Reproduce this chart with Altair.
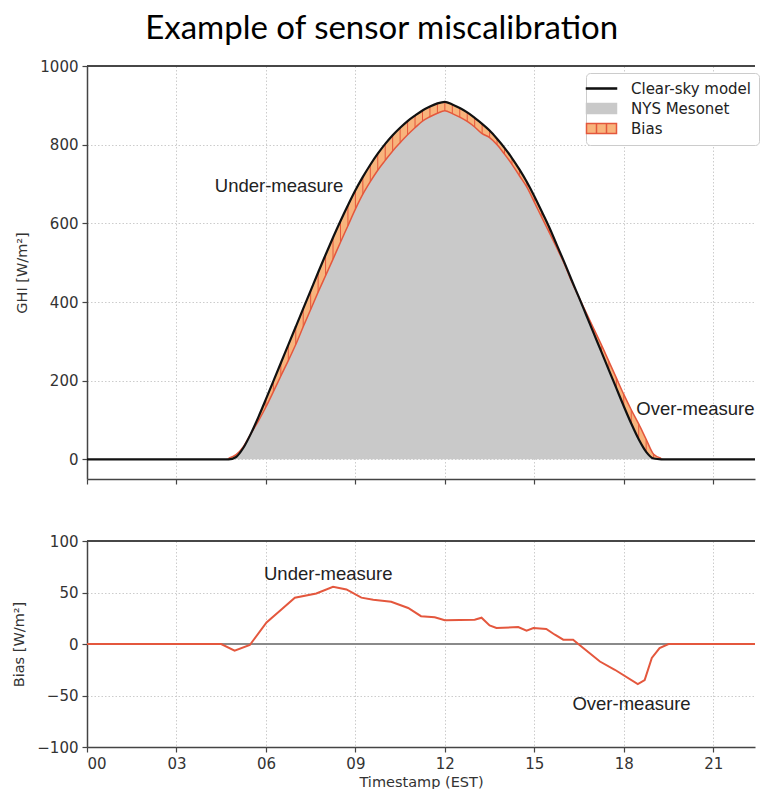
import altair as alt
import pandas as pd

# ---------------- data ----------------
top_hours = [0.0, 4.25, 4.5, 4.75, 5.0, 5.25, 5.5, 5.75, 6.0, 6.25, 6.5, 6.75, 7.0, 7.25,
             7.5, 7.75, 8.0, 8.25, 8.5, 8.75, 9.0, 9.25, 9.5, 9.75, 10.0, 10.25, 10.5,
             10.75, 11.0, 11.25, 11.5, 11.75, 12.0, 12.25, 12.5, 12.75, 13.0, 13.25,
             13.5, 13.75, 14.0, 14.25, 14.5, 14.75, 15.0, 15.25, 15.5, 15.75, 16.0,
             16.25, 16.5, 16.75, 17.0, 17.25, 17.5, 17.75, 18.0, 18.25, 18.5, 18.75,
             19.0, 19.25, 19.5, 19.75, 22.4]
clear_sky = [0, 0, 0, 0, 6, 30, 66, 108, 153, 199, 245, 291, 337, 383, 429, 475, 520,
             564, 606, 646, 684, 718, 749, 777, 802, 824, 843, 860, 874, 887, 897, 905,
             909, 902, 893, 882, 868, 853, 836, 815, 792, 766, 737, 705, 669, 630, 590,
             546, 502, 456, 411, 365, 319, 273, 227, 181, 135, 91, 51, 19, 2, 0, 0, 0, 0]
mesonet = [0, 0, 0, 3, 12, 33, 66, 98, 133, 172, 212, 251, 292, 337, 381, 425, 467,
           509, 552, 594, 636, 674, 706, 735, 760, 784, 805, 825, 843, 860, 871, 880,
           886, 879, 870, 859, 845, 828, 818, 800, 776, 750, 721, 692, 654, 615, 577,
           538, 498, 452, 411, 371, 331, 291, 249, 207, 165, 126, 90, 51, 13, 3, 0, 0, 0]

bias_hours = [0.0, 4.5, 4.95, 5.46, 6.02, 6.5, 6.97, 7.69, 8.25, 8.7, 9.2, 9.6, 10.2,
              10.77, 11.2, 11.66, 12.0, 13.0, 13.23, 13.5, 13.73, 14.46, 14.74, 14.97,
              15.4, 15.69, 15.97, 16.3, 16.64, 17.2, 17.7, 18.47, 18.7, 18.94, 19.2,
              19.5, 22.4]
bias_values = [0, 0, -6.4, -1, 21, 33, 45, 49, 55.6, 53, 45, 43, 41, 35, 27, 26, 23,
               23.5, 25.5, 18, 15.5, 16.5, 13, 15.5, 14.6, 9, 4.2, 4.2, -3.9, -17, -25,
               -39, -35, -13.6, -3.9, 0, 0]

series_names = ["Clear-sky model", "NYS Mesonet", "Bias"]

top_note_text = ["Under-measure", "Over-measure"]
top_note_hour = [6.44, 20.4]
top_note_ghi = [695, 128]
bottom_note_text = ["Under-measure", "Over-measure"]
bottom_note_hour = [8.09, 18.26]
bottom_note_bias = [68, -58]

hour_ticks = [0, 3, 6, 9, 12, 15, 18, 21]
ghi_ticks = [0, 200, 400, 600, 800, 1000]
bias_ticks = [-100, -50, 0, 50, 100]

# ---------------- styling ----------------
W = 668
H_TOP = 413
H_BOT = 206
X_DOMAIN = [0, 22.4]
BLACK = "#111111"
GRAY = "#c9c9c9"
ORANGE = "#f8b47c"
RED = "#e4573d"
AXIS_C = "#444444"
ANNOT_FONT = "Liberation Sans"

top_df = pd.DataFrame({"hour": top_hours, "clear": clear_sky, "mesonet": mesonet})
day_df = top_df[(top_df["clear"] > 0) | (top_df["mesonet"] > 0)]
hatch_df = top_df[(top_df["clear"] - top_df["mesonet"]).abs() > 1]
bias_df = pd.DataFrame({"hour": bias_hours, "bias": bias_values})
legend_df = pd.DataFrame({"series": series_names})
top_notes = pd.DataFrame({"text": top_note_text, "hour": top_note_hour, "val": top_note_ghi})
bottom_notes = pd.DataFrame({"text": bottom_note_text, "hour": bottom_note_hour, "val": bottom_note_bias})

x_scale = alt.Scale(domain=X_DOMAIN, nice=False, zero=False)
y_top_scale = alt.Scale(domain=[-50, 1000], nice=False, zero=False)
y_bot_scale = alt.Scale(domain=[-100, 100], nice=False, zero=False)

x_axis_top = alt.Axis(values=hour_ticks, labels=False, title=None, grid=True)
x_axis_bot = alt.Axis(values=hour_ticks, title="Timestamp (EST)", grid=True,
                      labelExpr="datum.value < 10 ? '0' + datum.value : '' + datum.value",
                      titlePadding=4)
y_axis_top = alt.Axis(values=ghi_ticks, format="d", title="GHI [W/m²]", grid=True, titlePadding=10)
y_axis_bot = alt.Axis(values=bias_ticks, format="d", title="Bias [W/m²]", grid=True, titlePadding=10)


def xt(field="hour"):
    return alt.X(f"{field}:Q", scale=x_scale, axis=x_axis_top)


def yt(field):
    return alt.Y(f"{field}:Q", scale=y_top_scale, axis=y_axis_top)


gray_area = alt.Chart(top_df).mark_area(color=GRAY, interpolate="monotone").encode(
    x=xt(), y=yt("mesonet"), y2=alt.datum(0))
bias_area = alt.Chart(top_df).mark_area(color=ORANGE, interpolate="monotone").encode(
    x=xt(), y=yt("clear"), y2="mesonet:Q")
hatch = alt.Chart(hatch_df).mark_rule(color=RED, strokeWidth=1).encode(
    x=xt(), y=yt("clear"), y2="mesonet:Q")
mes_edge = alt.Chart(day_df).mark_line(color=RED, strokeWidth=1.5, interpolate="monotone").encode(
    x=xt(), y=yt("mesonet"))
clear_line = alt.Chart(top_df).mark_line(color=BLACK, strokeWidth=2.2, interpolate="monotone").encode(
    x=xt(), y=yt("clear"))
top_spine = alt.Chart(legend_df).mark_rule(color=AXIS_C, strokeWidth=1.5).encode(
    x=alt.value(0), x2=alt.value(W), y=alt.value(0))
top_text = alt.Chart(top_notes).mark_text(font=ANNOT_FONT, fontSize=18.5, color="#222222").encode(
    x=xt(), y=yt("val"), text="text:N")

line_path = "M-3,-0.12H3V0.12H-3Z"
rect_path = "M-3,-1H3V1H-3Z"
bias_path = "M-3,-1H3V1H-3Z M-1,-1V1 M1,-1V1"
legend_layer = alt.Chart(legend_df).mark_point(filled=True, opacity=1, clip=True, size=100).encode(
    x=alt.value(-300), y=alt.value(-300),
    fill=alt.Fill("series:N",
                  scale=alt.Scale(domain=series_names, range=[BLACK, GRAY, ORANGE]),
                  legend=alt.Legend(title=None, orient="none", legendX=499, legendY=7,
                                    fillColor="white", strokeColor="#cccccc", padding=8,
                                    cornerRadius=4, labelFont="DejaVu Sans", labelFontSize=15,
                                    labelColor="#222222", symbolSize=100,
                                    symbolStrokeWidth=1.5, labelOffset=22, rowPadding=3)),
    stroke=alt.Stroke("series:N",
                      scale=alt.Scale(domain=series_names, range=[BLACK, GRAY, RED])),
    shape=alt.Shape("series:N",
                    scale=alt.Scale(domain=series_names, range=[line_path, rect_path, bias_path])),
)

top = alt.layer(gray_area, bias_area, hatch, mes_edge, clear_line, top_spine, top_text,
                legend_layer).properties(width=W, height=H_TOP)


def xb():
    return alt.X("hour:Q", scale=x_scale, axis=x_axis_bot)


def yb(field):
    return alt.Y(f"{field}:Q", scale=y_bot_scale, axis=y_axis_bot)


zero_rule = alt.Chart(legend_df).mark_rule(color="#8a8a8a", strokeWidth=2).encode(
    y=alt.Y(datum=0, scale=y_bot_scale, axis=y_axis_bot))
bias_line = alt.Chart(bias_df).mark_line(color=RED, strokeWidth=2).encode(x=xb(), y=yb("bias"))
bot_spine = alt.Chart(legend_df).mark_rule(color=AXIS_C, strokeWidth=1.5).encode(
    x=alt.value(0), x2=alt.value(W), y=alt.value(0))
bot_text = alt.Chart(bottom_notes).mark_text(font=ANNOT_FONT, fontSize=18.5, color="#222222").encode(
    x=xb(), y=yb("val"), text="text:N")

bottom = alt.layer(zero_rule, bias_line, bot_spine, bot_text).properties(width=W, height=H_BOT)

chart = alt.vconcat(top, bottom, spacing=49).properties(
    title=alt.TitleParams("Example of sensor miscalibration", font="Lato", fontSize=33,
                          fontWeight="normal", color="black", anchor="middle", offset=13,
                          dx=-4)
).configure(
    padding={"left": 3, "top": 5, "right": 0, "bottom": 0}
).configure_view(stroke=None).configure_axis(
    domainColor=AXIS_C, domainWidth=1.5, tickColor=AXIS_C, tickWidth=1.2, tickSize=5,
    labelFont="DejaVu Sans", labelFontSize=15, labelColor="#333333", labelPadding=4,
    titleFont="DejaVu Sans", titleFontSize=14.5, titleFontWeight="normal", titleColor="#333333",
    gridColor="#cccccc", gridDash=[1.5, 2], gridWidth=1
)

chart.save("out.html", embed_options={"renderer": "svg", "actions": False})
